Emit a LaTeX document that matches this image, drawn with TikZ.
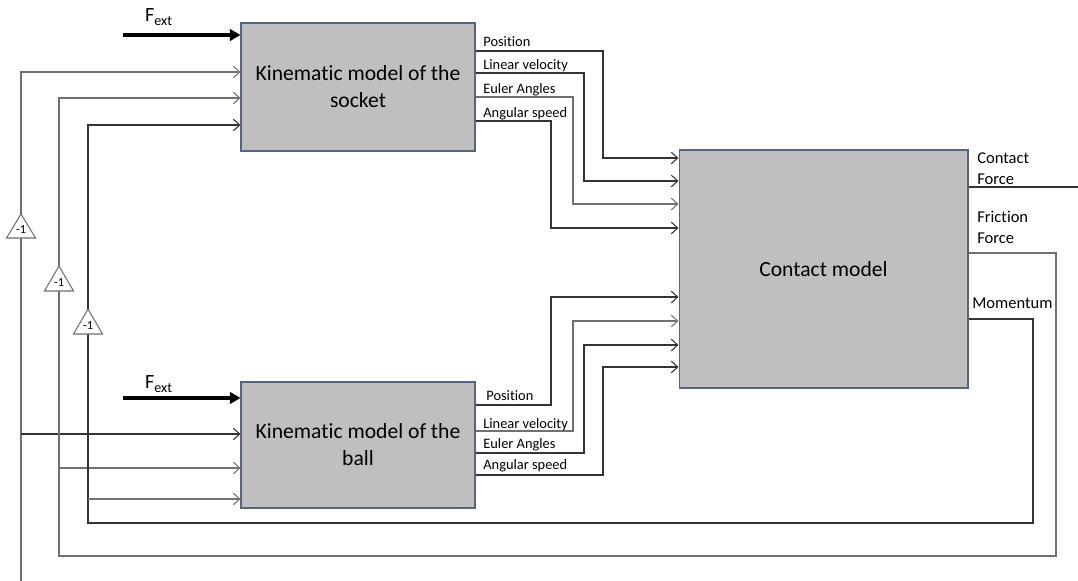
\documentclass[tikz,border=0pt]{standalone}
\usepackage{fontspec}
\setmainfont{Carlito}[Ligatures={NoCommon}]
\usetikzlibrary{arrows.meta,calc}
\definecolor{boxfill}{HTML}{BFBFBF}
\definecolor{boxedge}{HTML}{56657F}
\definecolor{wirecol}{HTML}{333333}
\definecolor{wiregray}{HTML}{707070}

% gain block: name, x, apex y, base y
\newcommand\gainblock[4]{%
  \draw[wiregray, line width=0.6pt, fill=white] (#2-14.5,#4) -- (#2,#3) -- (#2+14.5,#4) -- cycle;
  \node[font=\fontsize{7}{8}\selectfont, inner sep=0pt] (#1) at (#2,{#3+0.66*(#4-#3)}) {-1};
}

\begin{document}
\begin{tikzpicture}[x=0.02cm,y=-0.02cm,
  block/.style={draw=boxedge, fill=boxfill, line width=0.6pt, align=center,
    font=\fontsize{12.3}{15.3}\selectfont, inner sep=0pt},
  wire/.style={draw=wirecol, line width=0.6pt},
  gwire/.style={draw=wiregray, line width=0.6pt},
  tip/.style={-{Straight Barb[length=3.6pt,width=6.5pt]}},
  fext/.style={line width=1.8pt, -{Triangle[length=6pt,width=6.5pt]}},
  port/.style={font=\fontsize{8.2}{9}\selectfont, anchor=base west, inner sep=0pt},
  outlbl/.style={font=\fontsize{9.4}{11.6}\selectfont, align=left, anchor=base west, inner sep=0pt},
  flbl/.style={font=\fontsize{11.5}{12}\selectfont, inner sep=0pt},
]
\useasboundingbox (0,0) rectangle (1078,581);

% blocks
\node[block, minimum width=4.68cm, minimum height=2.56cm] (sock) at (358,87)
  {Kinematic model of the\\socket};
\node[block, minimum width=4.68cm, minimum height=2.52cm] (ball) at (358,445)
  {Kinematic model of the\\ball};
\node[block, minimum width=5.78cm, minimum height=4.76cm] (cont) at (823.5,269)
  {Contact model};

% external forces
\coordinate (fs) at (123,35);
\coordinate (fb) at (123,398);
\draw[fext] (fs) -- (fs -| sock.west);
\draw[fext] (fb) -- (fb -| ball.west);
\node[flbl] (fls) at (159,17) {F\textsubscript{ext}};
\node[flbl] (flb) at (159,384) {F\textsubscript{ext}};

% socket outputs to contact model
\draw[wire, tip] (sock.east |- 0,51) -- (603,51) |- (cont.west |- 0,158);
\draw[wire, tip] (sock.east |- 0,73) -- (584,73) |- (cont.west |- 0,181);
\draw[gwire, tip] (sock.east |- 0,97) -- (573,97) |- (cont.west |- 0,204);
\draw[wire, tip] (sock.east |- 0,121) -- (551,121) |- (cont.west |- 0,228);
\node[port] (sp1) at (483,47) {Position};
\node[port] (sp2) at (483,69.5) {Linear velocity};
\node[port] (sp3) at (483,93) {Euler Angles};
\node[port] (sp4) at (483,117) {Angular speed};

% ball outputs to contact model
\draw[wire, tip] (ball.east |- 0,405) -- (551,405) |- (cont.west |- 0,297);
\draw[gwire, tip] (ball.east |- 0,431) -- (573,431) |- (cont.west |- 0,321);
\draw[wire, tip] (ball.east |- 0,453) -- (584,453) |- (cont.west |- 0,345);
\draw[wire, tip] (ball.east |- 0,475) -- (603,475) |- (cont.west |- 0,367);
\node[port] (bp1) at (486,400) {Position};
\node[port] (bp2) at (483,428.5) {Linear velocity};
\node[port] (bp3) at (483,448.5) {Euler Angles};
\node[port] (bp4) at (483,469.5) {Angular speed};

% contact model outputs (baseline anchor sits on the last line)
\coordinate (cfo) at (1078,187);
\draw[wire] (cont.east |- cfo) -- (cfo);
\node[outlbl] (lcf) at (977,184) {Contact\\Force};
\node[outlbl] (lff) at (977,243) {Friction\\Force};
\node[outlbl] (lmo) at (972,308) {Momentum};

% feedback paths
\coordinate (fa) at (21,581);
\draw[gwire, tip] (fa) -- (21,72) -- (sock.west |- 0,72);
\draw[wire, tip] (21,434) -- (ball.west |- 0,434);

\draw[gwire, tip] (cont.east |- 0,253) -- (1056,253) -- (1056,556) -- (59,556)
  -- (59,98) -- (sock.west |- 0,98);
\draw[gwire, tip] (59,468) -- (ball.west |- 0,468);

\draw[wire, tip] (cont.east |- 0,319) -- (1033,319) -- (1033,523) -- (88,523)
  -- (88,125) -- (sock.west |- 0,125);
\draw[gwire, tip] (88,499) -- (ball.west |- 0,499);

% sign inversion gains
\gainblock{g1}{21}{214}{238}
\gainblock{g2}{59}{266}{291}
\gainblock{g3}{88}{309}{334}
\end{tikzpicture}
\end{document}
